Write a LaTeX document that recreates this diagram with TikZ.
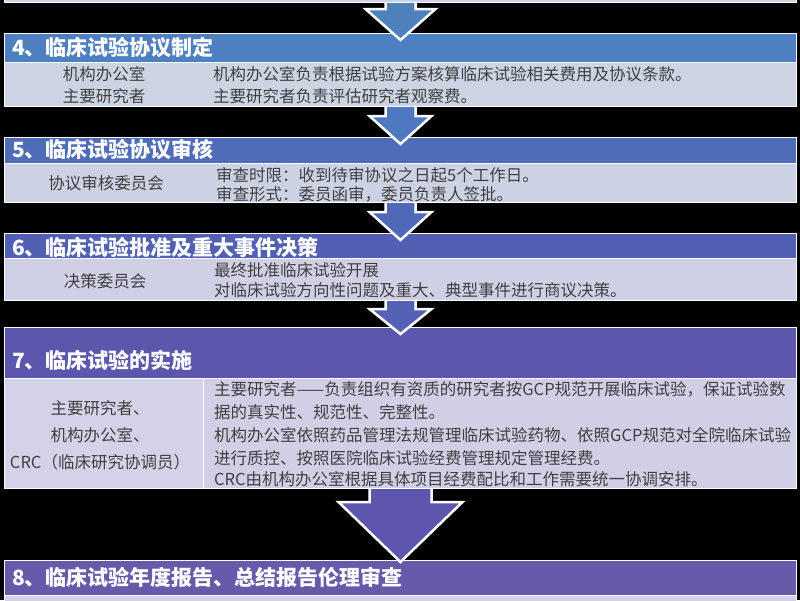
\documentclass[tikz,border=0pt]{standalone}
\usepackage{fontspec}
\newfontfamily\cjk{Noto Sans CJK SC}
\usetikzlibrary{calc}
\definecolor{hA}{HTML}{4E7FC0}
\definecolor{hB}{HTML}{4F6CB9}
\definecolor{hC}{HTML}{5160B3}
\definecolor{hD}{HTML}{5A57AD}
\definecolor{hE}{HTML}{675AAA}
\definecolor{cA}{HTML}{CCD4E4}
\definecolor{cB}{HTML}{CDD1E4}
\definecolor{cC}{HTML}{CFD0E5}
\definecolor{cD}{HTML}{D0CFE6}
\definecolor{cDl}{HTML}{D3D2E8}
\definecolor{cE}{HTML}{D4D1E6}
\definecolor{aA}{HTML}{4F81BD}
\definecolor{aB}{HTML}{4E78C0}
\definecolor{aC}{HTML}{5068B8}
\definecolor{aD}{HTML}{5462B5}
\definecolor{aE}{HTML}{5E56AE}
\definecolor{txt}{HTML}{404040}
\newcommand\BlkArrow[7]{%
  \draw[arw, fill=#7] let \p1=(#1.south), \p2=(#2.north) in
    (\x2-#3pt,\y1) -- (\x2-#3pt,\y1-#5pt) -- (\x2-#4pt,\y1-#5pt) --
    (\x2,\y2-#6pt) -- (\x2+#4pt,\y1-#5pt) -- (\x2+#3pt,\y1-#5pt) -- (\x2+#3pt,\y1);}
\begin{document}
\begin{tikzpicture}[x=1pt,y=-1pt,
  box/.style={draw=white, line width=1pt, inner sep=0pt, anchor=north west},
  arw/.style={draw=white, line width=2.5pt, line join=miter},
  htxt/.style={anchor=west, inner sep=0pt, text=white, font=\cjk\bfseries\fontsize{21}{21}\selectfont},
  ltxt/.style={inner sep=0pt, text=txt, font=\cjk\fontsize{16.5}{16.5}\selectfont},
  rtxt/.style={anchor=west, inner sep=0pt, text=txt, font=\cjk\fontsize{16.5}{16.5}\selectfont}]
\useasboundingbox (0,0) rectangle (800,600);
\fill[black] (0,0) rectangle (800,600);
% boxes
\node[box, fill=cA, minimum width=792pt, minimum height=22pt] (c3) at (4,-20) {};
\node[box, fill=hA, minimum width=792pt, minimum height=29pt] (h4) at (4,33) {};
\node[box, fill=cA, minimum width=792pt, minimum height=44pt] (c4) at (4,62) {};
\node[box, fill=hB, minimum width=792pt, minimum height=26pt] (h5) at (4,137) {};
\node[box, fill=cB, minimum width=792pt, minimum height=39pt] (c5) at (4,163) {};
\node[box, fill=hC, minimum width=792pt, minimum height=25pt] (h6) at (4,233) {};
\node[box, fill=cC, minimum width=792pt, minimum height=42pt] (c6) at (4,258) {};
\node[box, fill=hD, minimum width=792pt, minimum height=51pt] (h7) at (4,327) {};
\node[box, fill=cDl, minimum width=199pt, minimum height=110pt] (c7l) at (4,378) {};
\node[box, fill=cD, minimum width=593pt, minimum height=110pt] (c7r) at (203,378) {};
\node[box, fill=hE, minimum width=792pt, minimum height=35pt] (h8) at (4,560) {};
\node[box, fill=cE, minimum width=792pt, minimum height=20pt] (c8) at (4,595) {};
% arrows
\BlkArrow{c3}{h4}{15}{35}{6}{7}{aA}
\BlkArrow{c4}{h5}{15}{31}{9}{7}{aB}
\BlkArrow{c5}{h6}{15}{31}{9}{7}{aC}
\BlkArrow{c6}{h7}{15}{31}{8}{7}{aD}
\BlkArrow{c7l}{h8}{31}{62}{13}{2}{aE}
% headers
\node[htxt] (t4) at (12,47.5) {4、临床试验协议制定};
\node[htxt] (t5) at (12,150) {5、临床试验协议审核};
\node[htxt] (t6) at (12,247) {6、临床试验批准及重大事件决策};
\node[htxt] (t7) at (12,360) {7、临床试验的实施};
\node[htxt] (t8) at (12,577) {8、临床试验年度报告、总结报告伦理审查};
% section 4
\node[ltxt] (l4a) at (104,74) {机构办公室};
\node[ltxt] (l4b) at (104,96) {主要研究者};
\node[rtxt] (r4a) at (213,74) {机构办公室负责根据试验方案核算临床试验相关费用及协议条款。};
\node[rtxt] (r4b) at (213,96) {主要研究者负责评估研究者观察费。};
% section 5
\node[ltxt] (l5) at (106,183) {协议审核委员会};
\node[rtxt] (r5a) at (216,175) {审查时限：收到待审协议之日起5个工作日。};
\node[rtxt] (r5b) at (216,194) {审查形式：委员函审，委员负责人签批。};
% section 6
\node[ltxt] (l6) at (105,281) {决策委员会};
\node[rtxt] (r6a) at (214,270) {最终批准临床试验开展};
\node[rtxt] (r6b) at (214,290) {对临床试验方向性问题及重大、典型事件进行商议决策。};
% section 7
\node[ltxt] (l7a) at (100,408) {主要研究者、};
\node[ltxt] (l7b) at (100,435) {机构办公室、};
\node[ltxt] (l7c) at (100,462) {CRC（临床研究协调员）};
\node[rtxt] (r7a) at (214,389) {主要研究者——负责组织有资质的研究者按GCP规范开展临床试验，保证试验数};
\node[rtxt] (r7b) at (214,412) {据的真实性、规范性、完整性。};
\node[rtxt] (r7c) at (214,435) {机构办公室依照药品管理法规管理临床试验药物、依照GCP规范对全院临床试验};
\node[rtxt] (r7d) at (214,458) {进行质控、按照医院临床试验经费管理规定管理经费。};
\node[rtxt] (r7e) at (214,479) {CRC由机构办公室根据具体项目经费配比和工作需要统一协调安排。};
\end{tikzpicture}
\end{document}
